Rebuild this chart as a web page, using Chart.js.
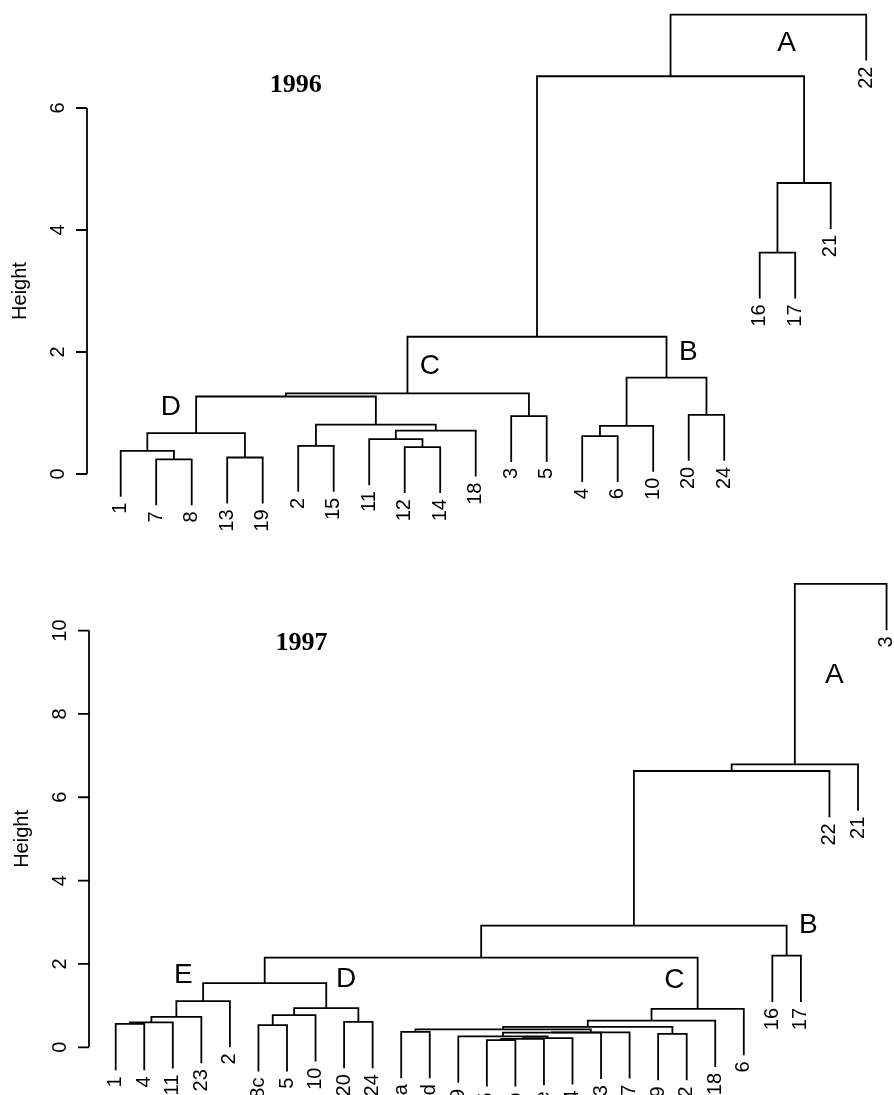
<!DOCTYPE html>
<html>
<head>
<meta charset="utf-8">
<script src="https://cdn.jsdelivr.net/npm/chart.js@4.4.1/dist/chart.umd.min.js"></script>
<style>
  body { margin: 0; background: #fff; }
  #wrap { position: relative; width: 894px; height: 1095px; overflow: hidden; }
  canvas { position: absolute; left: 0; }
  #c96 { top: 0; }
  #c97 { top: 545px; }
</style>
</head>
<body>
<div id="wrap">
  <canvas id="c96" width="894" height="545"></canvas>
  <canvas id="c97" width="894" height="550"></canvas>
</div>
<script>
// --- DATA 1996 ---
// leaves in plotted order; merge rows follow R's hclust convention (-k = leaf k, +i = merge i)
const leaves96 = ['1', '7', '8', '13', '19', '2', '15', '11', '12', '14', '18', '3', '5',
                  '4', '6', '10', '20', '24', '16', '17', '21', '22'];
const merge96 = [[-2, -3], [-1, 1], [-4, -5], [2, 3], [-6, -7], [-9, -10], [-8, 6], [7, -11],
                 [5, 8], [4, 9], [-12, -13], [10, 11], [-14, -15], [13, -16], [-17, -18],
                 [14, 15], [12, 16], [-19, -20], [18, -21], [17, 19], [20, -22]];
const heights96 = [0.24, 0.38, 0.27, 0.67, 0.46, 0.44, 0.57, 0.71, 0.81, 1.27, 0.95, 1.32,
                   0.62, 0.79, 0.97, 1.58, 2.25, 3.63, 4.77, 6.52, 7.53];
const ticks96 = [0, 2, 4, 6];
const groups96 = ['A', 'B', 'C', 'D'];

// --- DATA 1997 ---
const leaves97 = ['1', '4', '11', '23', '2', '8c', '5', '10', '20', '24', '8a', '8d', '9', '15',
                  '8b', '8e', '14', '13', '7', '19', '12', '18', '6', '16', '17', '22', '21', '3'];
const merge97 = [[-1, -2], [1, -3], [2, -4], [3, -5], [-6, -7], [5, -8], [-9, -10], [6, 7],
                 [4, 8], [-11, -12], [-14, -15], [11, -16], [12, -17], [-13, 13], [14, -18],
                 [15, -19], [10, 16], [-20, -21], [17, 18], [19, -22], [20, -23], [9, 21],
                 [-24, -25], [22, 23], [24, -26], [25, -27], [26, -28]];
const heights97 = [0.56, 0.60, 0.73, 1.11, 0.53, 0.77, 0.61, 0.94, 1.54, 0.37, 0.17, 0.20,
                   0.22, 0.26, 0.35, 0.36, 0.43, 0.32, 0.49, 0.64, 0.92, 2.15, 2.20, 2.92,
                   6.63, 6.79, 11.12];
const ticks97 = [0, 2, 4, 6, 8, 10];
const groups97 = ['A', 'B', 'C', 'D', 'E'];

// --- DENDROGRAM LAYOUT (leaf k sits at x = k, leaves hang 10% of the top height) ---
function layout(leaves, merge, heights) {
    const hang = 0.1 * Math.max(...heights);
    const centers = [];
    const leafEnds = new Array(leaves.length).fill(0);
    const links = merge.map(([a, b], i) => {
        const h = heights[i];
        const node = (c) => {
            if (c < 0) {
                leafEnds[-c - 1] = h - hang;
                return { x: -c, y: h - hang };
            }
            return { x: centers[c - 1], y: heights[c - 1] };
        };
        const L = node(a), R = node(b);
        centers.push((L.x + R.x) / 2);
        return [{ x: L.x, y: L.y }, { x: L.x, y: h }, { x: R.x, y: h }, { x: R.x, y: R.y }];
    });
    return { links, leafEnds };
}

// --- TEXT / AXIS PLUGIN ---
const dendroText = {
    id: 'dendroText',
    afterDatasetsDraw(chart, args, opts) {
        const { ctx } = chart;
        const xs = chart.scales.x, ys = chart.scales.y;
        ctx.save();
        ctx.fillStyle = '#000';
        ctx.strokeStyle = '#000';

        // leaf labels, rotated, ending just under each leaf
        ctx.font = '20px "Liberation Sans", Arial, sans-serif';
        ctx.textAlign = 'right';
        ctx.textBaseline = 'middle';
        opts.leaves.forEach((lab, i) => {
            const px = xs.getPixelForValue(i + 1);
            const py = ys.getPixelForValue(opts.leafEnds[i]) + 6;
            ctx.save();
            ctx.translate(px, py);
            ctx.rotate(-Math.PI / 2);
            ctx.fillText(lab, 0, 0);
            ctx.restore();
        });

        // y axis, R style
        const ax = xs.getPixelForValue(opts.axisX);
        const t0 = ys.getPixelForValue(opts.ticks[0]);
        const t1 = ys.getPixelForValue(opts.ticks[opts.ticks.length - 1]);
        ctx.lineWidth = 1.8;
        ctx.beginPath();
        ctx.moveTo(ax, t0);
        ctx.lineTo(ax, t1);
        opts.ticks.forEach(t => {
            const py = ys.getPixelForValue(t);
            ctx.moveTo(ax, py);
            ctx.lineTo(ax - 11, py);
        });
        ctx.stroke();
        ctx.textAlign = 'center';
        opts.ticks.forEach(t => {
            ctx.save();
            ctx.translate(ax - 29, ys.getPixelForValue(t));
            ctx.rotate(-Math.PI / 2);
            ctx.fillText(String(t), 0, 0);
            ctx.restore();
        });
        ctx.save();
        ctx.translate(ax - 67, (t0 + t1) / 2);
        ctx.rotate(-Math.PI / 2);
        ctx.fillText('Height', 0, 0);
        ctx.restore();

        // title
        ctx.font = 'bold 26px "Liberation Serif", "Times New Roman", serif';
        ctx.fillText(opts.title, xs.getPixelForValue(opts.titleAt[0]), ys.getPixelForValue(opts.titleAt[1]));

        // group letters
        ctx.font = '28px "Liberation Sans", Arial, sans-serif';
        opts.letters.forEach((l, i) => {
            ctx.fillText(opts.groups[i], xs.getPixelForValue(l[0]), ys.getPixelForValue(l[1]));
        });
        ctx.restore();
    }
};

// --- CHART SETUP ---
function makeDendro(canvasId, leaves, merge, heights, cfg) {
    const { links, leafEnds } = layout(leaves, merge, heights);
    return new Chart(document.getElementById(canvasId), {
        type: 'scatter',
        data: {
            datasets: links.map(pts => ({
                data: pts, showLine: true, borderColor: '#000', borderWidth: 1.8,
                pointRadius: 0, fill: false, tension: 0
            }))
        },
        options: {
            responsive: false, animation: false,
            layout: { padding: 0 },
            scales: {
                x: { type: 'linear', display: false, min: cfg.xRange[0], max: cfg.xRange[1] },
                y: { type: 'linear', display: false, min: cfg.yRange[0], max: cfg.yRange[1] }
            },
            plugins: {
                legend: { display: false },
                tooltip: { enabled: false },
                dendroText: {
                    leaves, leafEnds, ticks: cfg.ticks, axisX: cfg.axisX, title: cfg.title,
                    titleAt: cfg.titleAt, groups: cfg.groups, letters: cfg.letters
                }
            }
        },
        plugins: [dendroText]
    });
}

makeDendro('c96', leaves96, merge96, heights96, {
    xRange: [-2.4, 22.783], yRange: [-1.164, 7.770], ticks: ticks96, axisX: 0.051,
    title: '1996', titleAt: [5.93, 6.38], groups: groups96,
    letters: [[19.76, 7.06], [16.99, 2.00], [9.71, 1.76], [2.41, 1.10]]
});

makeDendro('c97', leaves97, merge97, heights97, {
    xRange: [-3.0525, 28.261], yRange: [-1.145, 12.054], ticks: ticks97, axisX: 0.065,
    title: '1997', titleAt: [7.51, 9.70], groups: groups97,
    letters: [[26.17, 8.92], [25.26, 2.92], [20.57, 1.62], [9.07, 1.64], [3.37, 1.72]]
});
</script>
</body>
</html>
